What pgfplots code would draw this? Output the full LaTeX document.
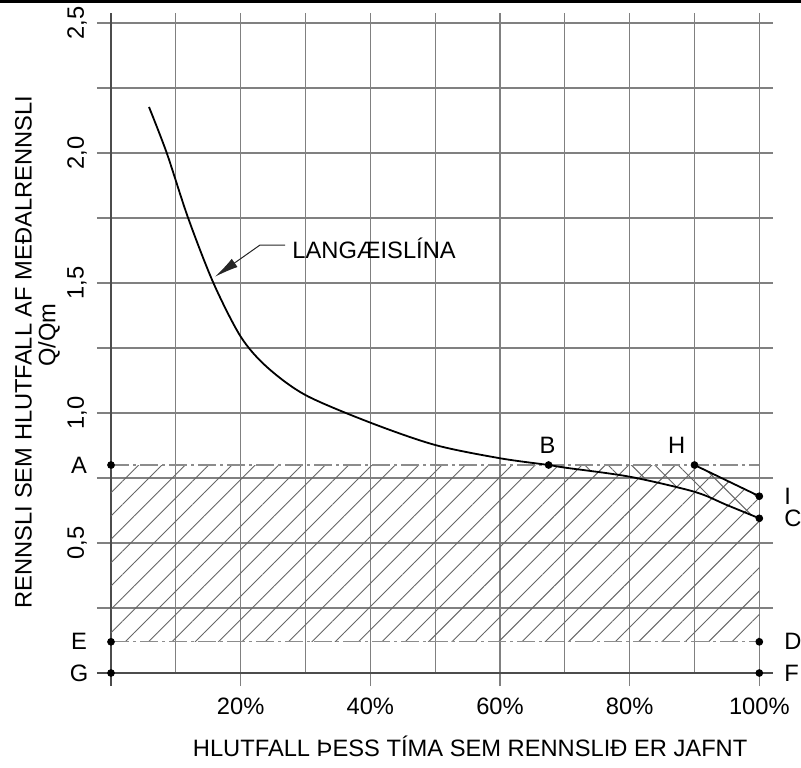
\documentclass[border=0pt]{standalone}
\usepackage{fontspec}
\setmainfont{Liberation Sans}
\usepackage{pgfplots}
\pgfplotsset{compat=1.18}
\usetikzlibrary{patterns.meta,arrows.meta}
\definecolor{gridc}{gray}{0.5}
\definecolor{axc}{gray}{0.3}
\definecolor{hatchc}{gray}{0.4}
\definecolor{dashc}{gray}{0.55}
\begin{document}
\begin{tikzpicture}[every node/.style={font=\fontsize{11.85}{14}\selectfont, inner sep=0pt}]
\useasboundingbox (-55.5pt,-47pt) rectangle (345pt,336.5pt);
\begin{axis}[scale only axis, width=324.15pt, height=325pt,
  xmin=0, xmax=100, ymin=0, ymax=2.5, hide axis, clip=false]
% top border line
\draw[black, line width=1.5pt] (-17.2,2.5827) -- (106.5,2.5827);
% grid
\pgfplotsinvokeforeach{0.25,0.5,...,2.5}{\draw[gridc, line width=0.6pt] (-2.16,#1) -- (102.1,#1);}
\pgfplotsinvokeforeach{10,30,50,70,90}{\draw[gridc, line width=0.6pt] (#1,0) -- (#1,2.538);}
\pgfplotsinvokeforeach{20,40,60,80,100}{\draw[gridc, line width=0.6pt] (#1,-0.05) -- (#1,2.538);}
\draw[axc, line width=0.75pt] (0,-0.05) -- (0,2.538);
\draw[axc, line width=0.75pt] (-2.16,0) -- (102.1,0);
% hatching
\addplot[draw=none, pattern={Lines[angle=45,distance=8.25pt,line width=0.45pt]}, pattern color=hatchc]
  coordinates {(0,0.12) (0,0.8) (90,0.8) (100,0.68) (100,0.12)};
\addplot[draw=none, pattern={Lines[angle=-45,distance=8.25pt,line width=0.45pt]}, pattern color=hatchc]
  coordinates {(67.5,0.8) (90,0.8) (100,0.68) (100,0.595) (95,0.646) (90,0.697) (80,0.755) (70,0.79)};
% dash-dot lines
\addplot[dashc, line width=0.6pt, dash pattern=on 9pt off 2pt on 1.5pt off 2pt] coordinates {(0,0.8) (100,0.8)};
\addplot[dashc, line width=0.6pt, dash pattern=on 9pt off 2pt on 1.5pt off 2pt] coordinates {(0,0.12) (100,0.12)};
% duration curve
\addplot[black, line width=0.9pt, smooth] coordinates {
 (5.86,2.177) (8.6,2.0) (11.9,1.75) (15.8,1.5) (20,1.294) (24,1.178)
 (30,1.069) (40,0.963) (50,0.877) (60,0.826) (67.5,0.80)
 (70,0.79) (80,0.755) (90,0.697) (95,0.646) (100,0.595)};
\addplot[black, line width=0.9pt] coordinates {(90,0.8) (100,0.68)};
% points
\addplot[only marks, mark=*, mark size=1.7pt, black] coordinates {
 (0,0.8) (0,0.12) (0,0) (67.5,0.8) (90,0.8) (100,0.68) (100,0.595) (100,0.12) (100,0)};
% leader
\draw[black!85, line width=0.5pt, -{Latex[length=12pt,width=5pt]}] (26.84,1.646) -- (22.98,1.646) -- (16.04,1.524);
\node[anchor=base west] at (27.92,1.595) {LANGÆISLÍNA};
% point letters
\node at (-4.94,0.8) {A};
\node at (-4.94,0.123) {E};
\node at (-4.94,0) {G};
\node at (67.35,0.877) {B};
\node at (87.26,0.877) {H};
\node[anchor=west] at (103.8,0.681) {I};
\node[anchor=west] at (103.8,0.596) {C};
\node[anchor=west] at (103.8,0.123) {D};
\node[anchor=west] at (103.8,0) {F};
% tick labels
\node[rotate=90] at (-5.24,0.5) {0,5};
\node[rotate=90] at (-5.24,1.0) {1,0};
\node[rotate=90] at (-5.24,1.5) {1,5};
\node[rotate=90] at (-5.24,2.0) {2,0};
\node[rotate=90] at (-5.24,2.5) {2,5};
\node at (20,-0.127) {20\%};
\node at (40,-0.127) {40\%};
\node at (60,-0.127) {60\%};
\node at (80,-0.127) {80\%};
\node at (100,-0.127) {100\%};
% axis titles
\node[anchor=base] at (55.4,-0.321) {HLUTFALL ÞESS TÍMA SEM RENNSLIÐ ER JAFNT};
\node[rotate=90] at (-13.5,1.2346) {RENNSLI SEM HLUTFALL AF MEÐALRENNSLI};
\node[rotate=90] at (-9.56,1.3) {Q/Qm};
\end{axis}
\end{tikzpicture}
\end{document}
